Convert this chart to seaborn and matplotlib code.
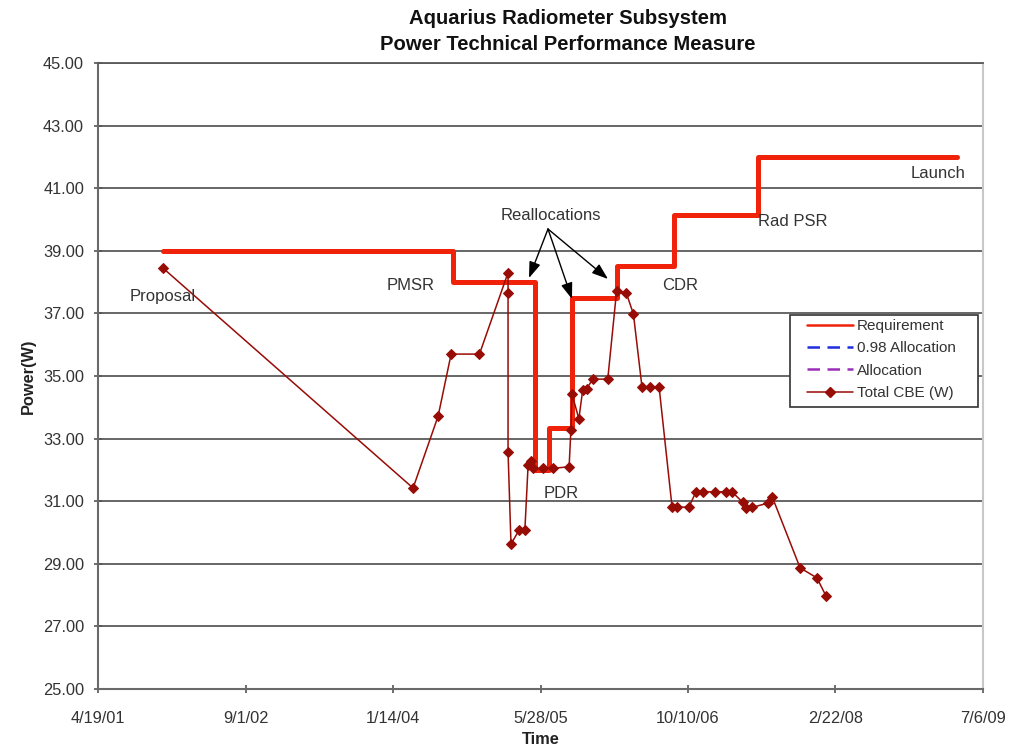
import numpy as np
import pandas as pd
import matplotlib
matplotlib.use("Agg")
import matplotlib.pyplot as plt
from matplotlib.lines import Line2D
from matplotlib.patches import Rectangle
import seaborn as sns

# ---------------- data ----------------
req_dates = ["2001-11-25", "2004-08-04", "2005-05-09", "2005-06-26", "2005-09-12",
             "2006-02-10", "2006-08-24", "2007-06-04", "2009-04-09"]
req_values = [39.0, 38.0, 32.0, 33.35, 37.5, 38.5, 40.15, 42.0, 42.0]

cbe_dates = ["2001-11-25", "2004-03-22", "2004-06-15", "2004-07-29", "2004-11-02",
             "2005-02-07", "2005-02-07", "2005-02-07", "2005-02-17", "2005-03-16",
             "2005-04-05", "2005-04-16", "2005-04-26", "2005-05-03", "2005-06-05",
             "2005-07-09", "2005-09-02", "2005-09-08", "2005-09-12", "2005-10-05",
             "2005-10-18", "2005-11-01", "2005-11-21", "2006-01-11", "2006-02-10",
             "2006-03-15", "2006-04-08", "2006-05-07", "2006-06-03", "2006-07-04",
             "2006-08-17", "2006-09-03", "2006-10-13", "2006-11-06", "2006-11-30",
             "2007-01-10", "2007-02-16", "2007-03-08", "2007-04-13", "2007-04-24",
             "2007-05-15", "2007-07-08", "2007-07-22", "2007-10-25", "2007-12-21",
             "2008-01-21"]
cbe_values = [38.45, 31.42, 33.72, 35.70, 35.70,
              38.30, 37.65, 32.57, 29.63, 30.07,
              30.07, 32.16, 32.30, 32.05, 32.05,
              32.05, 32.10, 33.27, 34.42, 33.63,
              34.55, 34.60, 34.90, 34.90, 37.72,
              37.65, 36.98, 34.65, 34.65, 34.65,
              30.81, 30.81, 30.81, 31.30, 31.30,
              31.30, 31.30, 31.30, 30.97, 30.78,
              30.80, 30.94, 31.15, 28.87, 28.55,
              27.97]

tick_dates = ["2001-04-19", "2002-09-01", "2004-01-14", "2005-05-28",
              "2006-10-10", "2008-02-22", "2009-07-06"]
tick_labels = ["4/19/01", "9/1/02", "1/14/04", "5/28/05", "10/10/06", "2/22/08", "7/6/09"]

series_names = ["Requirement", "0.98 Allocation", "Allocation", "Total CBE (W)"]

milestones = ["Proposal", "PMSR", "Reallocations", "CDR", "Rad PSR", "Launch", "PDR"]

# ---------------- style ----------------
sns.set_theme(style="white")
plt.rcParams["font.family"] = ["Liberation Sans", "DejaVu Sans"]

req_df = pd.DataFrame({"date": pd.to_datetime(req_dates), "power": req_values})
cbe_df = pd.DataFrame({"date": pd.to_datetime(cbe_dates), "power": cbe_values})

fig = plt.figure(figsize=(10.09, 7.48), dpi=100)
L, R, T, B = 98, 983, 63, 689
W, H = 1009, 748
ax = fig.add_axes([L / W, 1 - B / H, (R - L) / W, (B - T) / H])

REQ_C = "#f0220a"
CBE_C = "#980c06"

sns.lineplot(data=req_df, x="date", y="power", ax=ax, color=REQ_C, lw=3.6,
             drawstyle="steps-post", sort=False, estimator=None, zorder=3)
sns.lineplot(data=cbe_df, x="date", y="power", ax=ax, color=CBE_C, lw=1.1,
             marker="D", markersize=5.5, markeredgecolor=CBE_C,
             sort=False, estimator=None, zorder=4)

# axes limits / ticks
x0, x1 = pd.Timestamp(tick_dates[0]), pd.Timestamp(tick_dates[-1])
ax.set_xlim(x0, x1)
ax.set_ylim(25, 45)
ax.set_yticks(np.arange(25, 45.01, 2))
ax.yaxis.set_major_formatter(matplotlib.ticker.FormatStrFormatter("%.2f"))
ax.set_xticks(pd.to_datetime(tick_dates))
ax.set_xticklabels(tick_labels)

ax.grid(axis="y", color="#5a5a5a", lw=1.3)
ax.grid(axis="x", visible=False)
ax.set_axisbelow(True)
for s in ["left", "bottom"]:
    ax.spines[s].set_color("#6a6a6a")
    ax.spines[s].set_linewidth(1.5)
ax.spines["top"].set_color("#5a5a5a")
ax.spines["top"].set_linewidth(1.3)
ax.spines["right"].set_color("#c8c8c8")
ax.spines["right"].set_linewidth(1.5)

ax.tick_params(axis="both", which="major", direction="inout", length=6, width=1.2,
               color="#555555", labelcolor="#333333", labelsize=11.8)
ax.tick_params(axis="x", pad=13, bottom=True)
ax.tick_params(axis="y", pad=7, left=True)

ax.set_xlabel("Time", fontsize=11.8, fontweight="bold", color="#222222", labelpad=4)
ax.set_ylabel("Power(W)", fontsize=11.8, fontweight="bold", color="#222222", labelpad=5)

fig.text(568 / W, 1 - 19 / H, "Aquarius Radiometer Subsystem", ha="center", va="center",
         fontsize=14.6, fontweight="bold", color="#111111")
fig.text(568 / W, 1 - 44 / H, "Power Technical Performance Measure", ha="center", va="center",
         fontsize=14.6, fontweight="bold", color="#111111")

# annotations (positions in pixel layout -> axes fraction)
def af(px, py):
    return ((px - L) / (R - L), (B - py) / (B - T))

label_pos = [(163, 297), (411, 285), (551, 215), (680, 285), (793, 222), (938, 173), (561, 494)]
for txt, (px, py) in zip(milestones, label_pos):
    ax.text(*af(px, py), txt, transform=ax.transAxes, ha="center", va="center",
            fontsize=12, color="#333333", zorder=5)

start = af(548, 229)
for end_px in [(529, 278), (572, 299), (608, 279)]:
    ax.annotate("", xy=af(*end_px), xycoords="axes fraction", xytext=start,
                textcoords="axes fraction",
                arrowprops=dict(arrowstyle="-|>,head_length=0.7,head_width=0.25",
                                color="black", lw=1.0,
                                mutation_scale=14, shrinkA=0, shrinkB=0), zorder=6)

# legend box + legend
bx0, by0 = af(790, 407)
bx1, by1 = af(978, 315)
ax.add_patch(Rectangle((bx0, by0), bx1 - bx0, by1 - by0, transform=ax.transAxes,
                       facecolor="white", edgecolor="#333333", lw=1.2, zorder=7))
handles = [
    Line2D([], [], color=REQ_C, lw=1.8),
    Line2D([], [], color="#1f2de0", lw=1.8, ls=(0, (5, 3))),
    Line2D([], [], color="#9a2fb8", lw=1.8, ls=(0, (5, 3))),
    Line2D([], [], color=CBE_C, lw=1.1, marker="D", markersize=5),
]
leg = ax.legend(handles, series_names, loc="upper left", bbox_to_anchor=af(807, 319),
                bbox_transform=ax.transAxes, fontsize=11, frameon=False,
                handlelength=3.0, handletextpad=0.25,
                labelspacing=0.55, borderpad=0, borderaxespad=0)
leg.set_zorder(8)
for t in leg.get_texts():
    t.set_color("#333333")

fig.savefig("out.png", dpi=100, facecolor="white")
